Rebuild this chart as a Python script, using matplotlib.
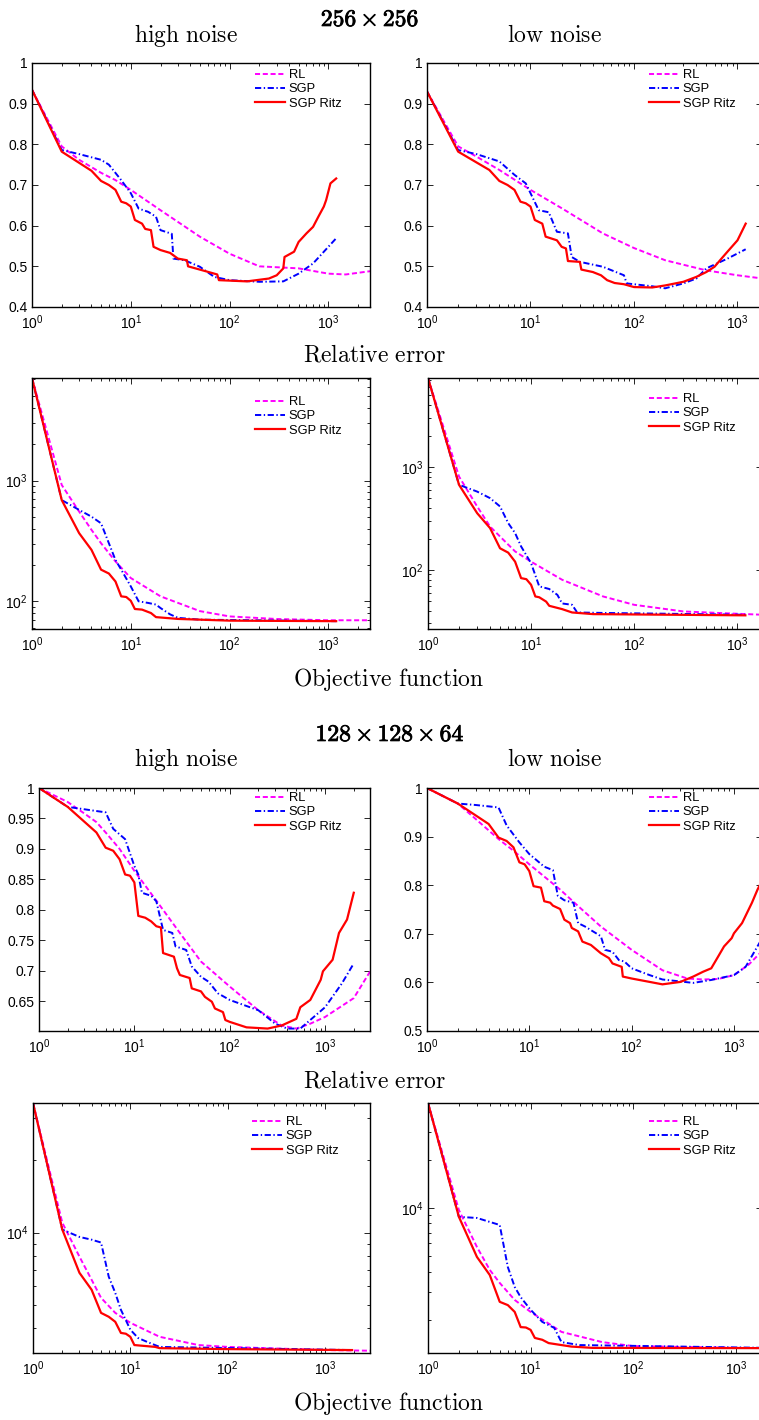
import numpy as np
import matplotlib.pyplot as plt
import matplotlib.patheffects as pe
from matplotlib.ticker import FixedLocator, FormatStrFormatter, LogLocator, NullFormatter

plt.rcParams['font.family'] = ['Liberation Sans', 'DejaVu Sans']
plt.rcParams['font.size'] = 10
plt.rcParams['mathtext.fontset'] = 'custom'
plt.rcParams['mathtext.rm'] = 'Liberation Sans'

W, H = 759, 1420

# ========================
# DATA (iteration, value)
# ========================
# 256x256 high noise - relative error
e1_rl_it = [1, 2, 3, 5, 7, 10, 20, 50, 100, 200, 500, 1000, 1500, 2640]
e1_rl = [0.934, 0.795, 0.762, 0.73, 0.712, 0.688, 0.638, 0.573, 0.531, 0.50, 0.495, 0.482, 0.48, 0.488]
e1_sgp_it = [1, 2, 3, 5, 6, 8, 10, 12, 15, 18, 20, 26, 27, 35, 50, 70, 100, 200, 350, 500, 700, 1000, 1200]
e1_sgp = [0.934, 0.786, 0.776, 0.762, 0.75, 0.712, 0.68, 0.642, 0.634, 0.622, 0.589, 0.58, 0.519, 0.515,
          0.499, 0.474, 0.466, 0.462, 0.463, 0.482, 0.507, 0.548, 0.569]
e1_ritz_it = [1, 2, 4, 5, 6, 7, 8, 9, 10, 11, 13, 14, 16, 17, 20, 25, 30, 37, 38, 50, 75, 78, 150, 250,
              300, 350, 360, 450, 500, 600, 700, 800, 900, 950, 1000, 1050, 1200]
e1_ritz = [0.934, 0.782, 0.735, 0.71, 0.70, 0.688, 0.659, 0.655, 0.647, 0.614, 0.605, 0.592, 0.589, 0.548,
           0.54, 0.533, 0.519, 0.515, 0.50, 0.492, 0.48, 0.466, 0.463, 0.47, 0.478, 0.495, 0.523, 0.536,
           0.56, 0.581, 0.597, 0.624, 0.647, 0.663, 0.684, 0.704, 0.716]

# 256x256 low noise - relative error
e2_rl_it = [1, 2, 3, 5, 10, 20, 50, 100, 200, 500, 1000, 1750]
e2_rl = [0.93, 0.795, 0.77, 0.737, 0.688, 0.643, 0.581, 0.545, 0.515, 0.49, 0.478, 0.47]
e2_sgp_it = [1, 2, 3, 5, 7, 9, 10, 12, 15, 18, 23, 25, 30, 50, 80, 85, 150, 200, 300, 400, 500, 800, 1200]
e2_sgp = [0.93, 0.786, 0.776, 0.758, 0.725, 0.704, 0.68, 0.638, 0.633, 0.585, 0.581, 0.523, 0.511, 0.499,
          0.478, 0.458, 0.451, 0.446, 0.458, 0.47, 0.495, 0.519, 0.542]
e2_ritz_it = [1, 2, 4, 5, 6, 7, 8, 9, 10, 11, 13, 14, 18, 20, 22, 23, 30, 31, 40, 48, 55, 65, 80, 100,
              150, 200, 300, 400, 500, 600, 700, 800, 1000, 1200]
e2_ritz = [0.93, 0.782, 0.737, 0.71, 0.70, 0.688, 0.659, 0.655, 0.647, 0.614, 0.605, 0.573, 0.564, 0.548,
           0.544, 0.513, 0.511, 0.492, 0.486, 0.478, 0.466, 0.459, 0.456, 0.449, 0.448, 0.453, 0.462,
           0.474, 0.486, 0.499, 0.519, 0.536, 0.564, 0.605]

# 256x256 high noise - objective function
o1_rl_it = [1, 2, 3, 4, 5, 7, 10, 20, 50, 100, 300, 1000, 2640]
o1_rl = [7080, 920, 554, 391, 303, 214, 156, 110, 83, 75, 71.4, 69.7, 69.7]
o1_sgp_it = [1, 2, 3, 4, 5, 6, 7, 8, 10, 12, 15, 18, 20, 25, 30, 50, 1200]
o1_sgp = [7080, 690, 572, 503, 443, 303, 220, 183, 133, 100, 97, 94, 88, 78, 73, 70.5, 68.5]
o1_ritz_it = [1, 2, 3, 4, 5, 6, 7, 8, 9, 10, 11, 13, 16, 18, 30, 100, 1200]
o1_ritz = [7080, 690, 367, 267, 183, 170, 146, 110, 108.6, 101, 86.4, 85.4, 80, 74, 71.5, 69.2, 68.5]

# 256x256 low noise - objective function
o2_rl_it = [1, 2, 3, 4, 5, 7, 10, 20, 50, 100, 300, 1000, 1750]
o2_rl = [7390, 810, 414, 264, 211, 151, 120, 80, 55, 45.6, 39.3, 37.3, 36.5]
o2_sgp_it = [1, 2, 3, 4, 5, 6, 7, 8, 10, 12, 15, 18, 20, 25, 28, 50, 1200]
o2_sgp = [7390, 673, 578, 499, 414, 285, 228, 169, 116, 69, 65, 57, 47, 45.6, 38.4, 38, 36.5]
o2_ritz_it = [1, 2, 3, 4, 5, 6, 7, 8, 9, 10, 11, 12, 14, 15, 20, 25, 40, 1200]
o2_ritz = [7390, 673, 356, 255, 162, 147, 120, 83, 81, 71.5, 55, 54, 49, 44.6, 41.4, 38.4, 37, 36]

# 128x128x64 high noise - relative error
e3_rl_it = [1, 2, 3, 4, 5, 7, 10, 20, 30, 50, 100, 200, 350, 500, 700, 1000, 2000, 3000]
e3_rl = [1.0, 0.977, 0.958, 0.944, 0.927, 0.90, 0.864, 0.80, 0.762, 0.715, 0.674, 0.635, 0.61, 0.605,
         0.613, 0.624, 0.655, 0.70]
e3_sgp_it = [1, 2, 5, 6, 8, 10, 11, 12, 15, 17, 20, 25, 27, 35, 40, 50, 60, 75, 100, 200, 300, 400, 550,
             1000, 1500, 2000]
e3_sgp = [1.0, 0.969, 0.96, 0.933, 0.916, 0.872, 0.858, 0.828, 0.823, 0.814, 0.767, 0.762, 0.74, 0.734,
          0.707, 0.69, 0.682, 0.663, 0.652, 0.635, 0.613, 0.605, 0.605, 0.64, 0.679, 0.712]
e3_ritz_it = [1, 2, 4, 5, 6, 7, 8, 9, 10, 11, 13, 15, 17, 19, 20, 26, 28, 30, 38, 40, 50, 55, 65, 70, 85,
              90, 100, 150, 250, 350, 500, 550, 700, 900, 950, 1200, 1400, 1700, 2000]
e3_ritz = [1.0, 0.969, 0.927, 0.902, 0.897, 0.883, 0.858, 0.856, 0.845, 0.79, 0.787, 0.781, 0.773, 0.771,
           0.729, 0.723, 0.704, 0.693, 0.688, 0.671, 0.666, 0.657, 0.649, 0.638, 0.632, 0.619, 0.616,
           0.607, 0.605, 0.61, 0.621, 0.64, 0.652, 0.685, 0.699, 0.718, 0.762, 0.784, 0.828]

# 128x128x64 low noise - relative error
e4_rl_it = [1, 2, 3, 5, 7, 10, 20, 30, 50, 100, 200, 350, 500, 700, 1000, 1400, 2000]
e4_rl = [1.0, 0.968, 0.936, 0.895, 0.871, 0.843, 0.791, 0.757, 0.715, 0.667, 0.625, 0.608, 0.606, 0.607,
         0.615, 0.637, 0.67]
e4_sgp_it = [1, 2, 3, 5, 6, 8, 10, 12, 14, 17, 19, 22, 27, 30, 35, 45, 50, 55, 65, 75, 85, 100, 150, 200,
             400, 600, 1000, 1300, 2000]
e4_sgp = [1.0, 0.968, 0.965, 0.96, 0.923, 0.888, 0.864, 0.85, 0.838, 0.831, 0.778, 0.769, 0.764, 0.722,
          0.715, 0.701, 0.695, 0.667, 0.663, 0.646, 0.643, 0.629, 0.615, 0.606, 0.599, 0.605, 0.615,
          0.632, 0.70]
e4_ritz_it = [1, 2, 4, 5, 6, 7, 8, 9, 10, 11, 13, 14, 16, 17, 20, 22, 25, 26, 30, 33, 40, 50, 60, 65, 80,
              82, 100, 150, 200, 300, 400, 500, 600, 700, 800, 950, 1000, 1200, 1500, 1700, 2000]
e4_ritz = [1.0, 0.968, 0.926, 0.898, 0.891, 0.878, 0.847, 0.843, 0.829, 0.798, 0.795, 0.767, 0.764, 0.758,
           0.751, 0.729, 0.722, 0.712, 0.705, 0.684, 0.677, 0.66, 0.65, 0.639, 0.632, 0.612, 0.608, 0.601,
           0.596, 0.601, 0.612, 0.622, 0.629, 0.653, 0.674, 0.691, 0.701, 0.722, 0.764, 0.791, 0.82]

# 128x128x64 high noise - objective function
o3_rl_it = [1, 2, 3, 4, 5, 7, 10, 20, 50, 100, 1000, 2900]
o3_rl = [34600, 11000, 7950, 6370, 5360, 4640, 4220, 3690, 3410, 3350, 3250, 3230]
o3_sgp_it = [1, 2, 3, 4, 5, 6, 7, 8, 10, 12, 15, 20, 1900]
o3_sgp = [34600, 10300, 9600, 9350, 9100, 6560, 5620, 4780, 3950, 3650, 3510, 3350, 3250]
o3_ritz_it = [1, 2, 3, 4, 5, 6, 7, 8, 9, 10, 11, 18, 20, 100, 1900]
o3_ritz = [34600, 10300, 6810, 5790, 4640, 4470, 4260, 3830, 3800, 3690, 3410, 3350, 3310, 3280, 3250]

# 128x128x64 low noise - objective function
o4_rl_it = [1, 2, 3, 4, 5, 7, 10, 20, 50, 100, 1000, 2000]
o4_rl = [45300, 9700, 5700, 4100, 3400, 2660, 2240, 1680, 1450, 1370, 1335, 1330]
o4_sgp_it = [1, 2, 3, 4, 5, 6, 7, 8, 10, 13, 17, 20, 30, 2000]
o4_sgp = [45300, 8800, 8660, 8180, 7830, 4270, 3210, 2770, 2310, 1940, 1780, 1450, 1390, 1335]
o4_ritz_it = [1, 2, 3, 4, 5, 6, 7, 8, 9, 10, 11, 13, 15, 20, 25, 40, 2000]
o4_ritz = [45300, 8800, 4940, 3810, 2590, 2470, 2240, 1800, 1790, 1730, 1540, 1500, 1430, 1390, 1360,
           1335, 1330]

labels = ['RL', 'SGP', 'SGP Ritz']

# ========================
# FIGURE
# ========================
fig = plt.figure(figsize=(W / 100, H / 100), dpi=100)


def px_axes(l, t, r, b):
    return fig.add_axes([l / W, 1 - b / H, (r - l) / W, (b - t) / H])


def draw(box, series, xmax, ylim, ylog, yticks, leg_xy):
    ax = px_axes(*box)
    (rl_x, rl_y), (sg_x, sg_y), (rz_x, rz_y) = series
    ax.plot(rl_x, rl_y, color='#ff00ff', lw=1.4, ls=(0, (2.6, 1.4)), label=labels[0])
    ax.plot(sg_x, sg_y, color='#0000ff', lw=1.4, ls=(0, (3.2, 1.3, 0.7, 1.3)), label=labels[1])
    ax.plot(rz_x, rz_y, color='#ff0000', lw=1.6, label=labels[2])
    ax.set_xscale('log')
    ax.set_xlim(1, xmax)
    ax.xaxis.set_major_locator(LogLocator(base=10, numticks=10))
    ax.xaxis.set_minor_locator(LogLocator(base=10, subs=np.arange(2, 10), numticks=20))
    ax.xaxis.set_minor_formatter(NullFormatter())
    if ylog:
        ax.set_yscale('log')
        ax.yaxis.set_minor_locator(LogLocator(base=10, subs=np.arange(2, 10), numticks=20))
        ax.yaxis.set_minor_formatter(NullFormatter())
    else:
        ax.yaxis.set_major_locator(FixedLocator(yticks))
        ax.yaxis.set_major_formatter(FormatStrFormatter('%g'))
    ax.set_ylim(*ylim)
    ax.tick_params(which='both', direction='in', top=True, right=True, labelsize=10)
    ax.tick_params(axis='x', pad=4.5)
    ax.tick_params(axis='y', pad=3)
    ax.tick_params(which='major', length=4, width=0.6)
    ax.tick_params(which='minor', length=2.2, width=0.6)
    for s in ax.spines.values():
        s.set_linewidth(1.0)
    ax.legend(loc='upper left', bbox_to_anchor=(leg_xy[0] / W, 1 - leg_xy[1] / H),
              bbox_transform=fig.transFigure, frameon=False, fontsize=9.3,
              handlelength=2.3, handletextpad=0.3, labelspacing=0.18,
              borderpad=0, borderaxespad=0)
    return ax


lin_a = [0.4, 0.5, 0.6, 0.7, 0.8, 0.9, 1.0]
lin_c = [0.65, 0.7, 0.75, 0.8, 0.85, 0.9, 0.95, 1.0]
lin_d = [0.5, 0.6, 0.7, 0.8, 0.9, 1.0]

draw((32, 63, 370, 307), [(e1_rl_it, e1_rl), (e1_sgp_it, e1_sgp), (e1_ritz_it, e1_ritz)],
     2640, (0.4, 1.0), False, lin_a, (255, 69))
draw((427, 63, 762, 307), [(e2_rl_it, e2_rl), (e2_sgp_it, e2_sgp), (e2_ritz_it, e2_ritz)],
     1725, (0.4, 1.0), False, lin_a, (649, 69))
draw((32, 378, 370, 629), [(o1_rl_it, o1_rl), (o1_sgp_it, o1_sgp), (o1_ritz_it, o1_ritz)],
     2640, (59, 7080), True, None, (255, 396))
draw((428, 378, 762, 629), [(o2_rl_it, o2_rl), (o2_sgp_it, o2_sgp), (o2_ritz_it, o2_ritz)],
     1740, (26.5, 7390), True, None, (649, 393))
draw((39, 788, 370, 1031), [(e3_rl_it, e3_rl), (e3_sgp_it, e3_sgp), (e3_ritz_it, e3_ritz)],
     2960, (0.601, 1.0), False, lin_c, (255, 792))
draw((427, 788, 762, 1031), [(e4_rl_it, e4_rl), (e4_sgp_it, e4_sgp), (e4_ritz_it, e4_ritz)],
     1880, (0.5, 1.0), False, lin_d, (649, 792))
draw((33, 1103, 370, 1353), [(o3_rl_it, o3_rl), (o3_sgp_it, o3_sgp), (o3_ritz_it, o3_ritz)],
     2900, (3160, 34600), True, None, (252, 1116))
draw((428, 1103, 762, 1353), [(o4_rl_it, o4_rl), (o4_sgp_it, o4_sgp), (o4_ritz_it, o4_ritz)],
     1800, (1240, 45300), True, None, (649, 1116))

# ========================
# TITLES
# ========================
def label(x, y, s, size=17, bold=False):
    t = fig.text(x / W, 1 - y / H, s, ha='center', va='baseline', fontsize=size, math_fontfamily='cm')
    if bold:
        t.set_path_effects([pe.withStroke(linewidth=0.6, foreground='black')])


label(370, 26, r'$\mathbf{256\times256}$', bold=True)
label(186, 42, r'$\mathrm{high\ noise}$')
label(554, 42, r'$\mathrm{low\ noise}$')
label(375, 362, r'$\mathrm{Relative\ error}$')
label(389, 686, r'$\mathrm{Objective\ function}$')
label(390, 741, r'$\mathbf{128\times128\times64}$', bold=True)
label(186, 766, r'$\mathrm{high\ noise}$')
label(554, 766, r'$\mathrm{low\ noise}$')
label(375, 1087, r'$\mathrm{Relative\ error}$')
label(389, 1410, r'$\mathrm{Objective\ function}$')

fig.savefig('out.png', dpi=100)
